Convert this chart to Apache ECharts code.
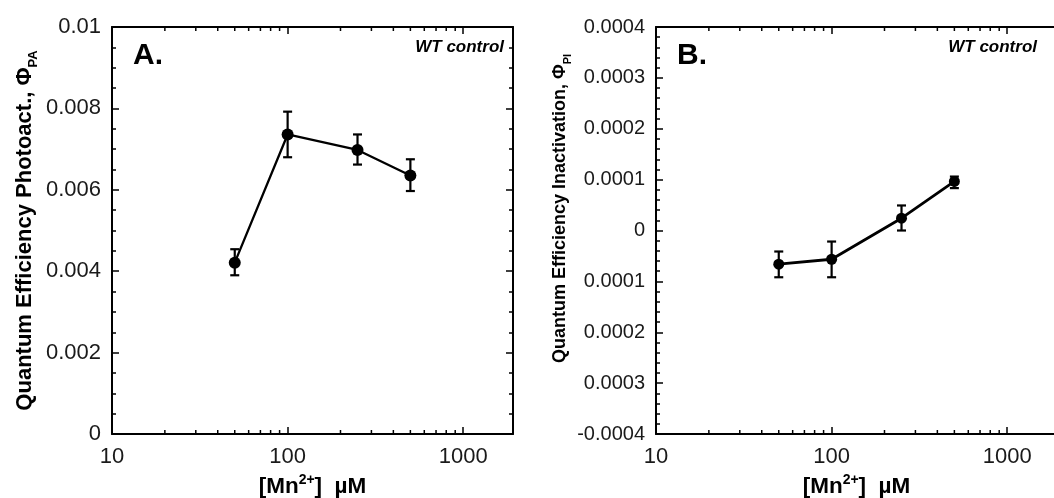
<!DOCTYPE html>
<html><head><meta charset="utf-8">
<script src="https://cdn.jsdelivr.net/npm/echarts@6/dist/echarts.min.js"></script>
<style>html,body{margin:0;padding:0;background:#fff}#c{width:1054px;height:498px}</style>
</head><body><div id="c"></div>
<script>
// ---- data ----
const mnConc = [50, 100, 250, 500];
const photoactPhi = [0.00421, 0.00736, 0.00698, 0.00635];
const photoactLow = [0.00390, 0.00680, 0.00662, 0.00597];
const photoactHigh = [0.00454, 0.00792, 0.00736, 0.00675];
const inactPhi = [-0.0000663, -0.0000565, 0.0000242, 0.0000965];
const inactLow = [-0.0000919, -0.0000919, 0.0000000, 0.0000833];
const inactHigh = [-0.0000413, -0.0000217, 0.0000492, 0.000106];
const xTickLabels = ['10', '100', '1000'];
const leftYTickLabels = ['0', '0.002', '0.004', '0.006', '0.008', '0.01'];
const rightYTickLabels = ['-0.0004', '0.0003', '0.0002', '0.0001', '0', '0.0001', '0.0002', '0.0003', '0.0004'];
const xMinorTicks = [20, 30, 40, 50, 60, 70, 80, 90, 200, 300, 400, 500, 600, 700, 800, 900];

const FONT = '"Liberation Sans", Arial, Helvetica, sans-serif';
const X_MIN = 10, X_MAX = 1920;

function xLabel(v) {
  const e = Math.log10(v);
  const r = Math.round(e);
  if (Math.abs(e - r) < 1e-6 && r >= 1 && r <= 3) return xTickLabels[r - 1];
  return '';
}

function makeX(gridIndex, pos, withLabels) {
  return {
    type: 'log', logBase: 10, gridIndex, position: pos, min: X_MIN, max: X_MAX,
    axisLine: { show: true, onZero: false, lineStyle: { color: '#000', width: 2 } },
    axisTick: { show: true, inside: true, length: 7, lineStyle: { color: '#000', width: 1.5 } },
    axisLabel: { show: withLabels, formatter: xLabel, color: '#1a1a1a', fontSize: 22, fontFamily: FONT, margin: 12,
      showMinLabel: true, showMaxLabel: false },
    splitLine: { show: false },
    name: withLabels ? '{b|[Mn}{sup|2+}{b|]  µM}' : '',
    nameLocation: 'middle', nameGap: 33,
    nameTextStyle: {
      fontFamily: FONT, color: '#000',
      rich: {
        b: { fontSize: 22.5, fontWeight: 'bold', fontFamily: FONT, color: '#000', lineHeight: 28, verticalAlign: 'middle' },
        sup: { fontSize: 14, fontWeight: 'bold', fontFamily: FONT, color: '#000', lineHeight: 14, verticalAlign: 'top' }
      }
    }
  };
}

function makeY(gridIndex, pos, opts) {
  return Object.assign({
    type: 'value', gridIndex, position: pos,
    axisLine: { show: true, onZero: false, lineStyle: { color: '#000', width: 2 } },
    axisTick: { show: true, inside: true, length: 7, lineStyle: { color: '#000', width: 1.5 } },
    splitLine: { show: false },
    minorSplitLine: { show: false }
  }, opts);
}

function errRender(params, api) {
  const x = api.value(0), lo = api.value(1), hi = api.value(2);
  const p1 = api.coord([x, lo]);
  const p2 = api.coord([x, hi]);
  const w = 4.5;
  const style = { stroke: '#000', lineWidth: 2.2 };
  return {
    type: 'group', children: [
      { type: 'line', shape: { x1: p1[0], y1: p1[1], x2: p2[0], y2: p2[1] }, style },
      { type: 'line', shape: { x1: p1[0] - w, y1: p1[1], x2: p1[0] + w, y2: p1[1] }, style },
      { type: 'line', shape: { x1: p2[0] - w, y1: p2[1], x2: p2[0] + w, y2: p2[1] }, style }
    ]
  };
}

function minorRender(params, api) {
  const cs = params.coordSys;
  const px = api.coord([api.value(0), api.value(1)])[0];
  const len = 4;
  const style = { stroke: '#000', lineWidth: 1.5 };
  return {
    type: 'group', children: [
      { type: 'line', shape: { x1: px, y1: cs.y + cs.height, x2: px, y2: cs.y + cs.height - len }, style },
      { type: 'line', shape: { x1: px, y1: cs.y, x2: px, y2: cs.y + len }, style }
    ]
  };
}

const leftYCommon = { min: 0, max: 0.01, interval: 0.002 };
const rightYCommon = { min: -0.0004, max: 0.0004, interval: 0.0001 };
const minorLeft = { show: true, splitNumber: 4, length: 4, lineStyle: { color: '#000', width: 1.5 } };
const minorRight = { show: true, splitNumber: 5, length: 4, lineStyle: { color: '#000', width: 1.5 } };

const option = {
  animation: false,
  backgroundColor: '#fff',
  grid: [
    { left: 112, top: 27, width: 401, height: 407, containLabel: false, outerBoundsMode: 'none' },
    { left: 656, top: 27, width: 401, height: 407, containLabel: false, outerBoundsMode: 'none' }
  ],
  xAxis: [
    makeX(0, 'bottom', true),
    makeX(0, 'top', false),
    makeX(1, 'bottom', true),
    makeX(1, 'top', false)
  ],
  yAxis: [
    makeY(0, 'left', Object.assign({}, leftYCommon, {
      minorTick: minorLeft,
      axisLabel: { color: '#1a1a1a', fontSize: 22, fontFamily: FONT, margin: 11, padding: [0, 0, 6, 0],
        formatter: v => leftYTickLabels[Math.round(v / 0.002)] },
      name: '{b|Quantum Efficiency Photoact., Φ}{sub|PA}',
      nameLocation: 'middle', nameGap: 72, nameRotate: 90,
      nameTextStyle: {
        rich: {
          b: { fontSize: 22, fontWeight: 'bold', fontFamily: FONT, color: '#000', lineHeight: 30, verticalAlign: 'middle' },
          sub: { fontSize: 13, fontWeight: 'bold', fontFamily: FONT, color: '#000', lineHeight: 13, verticalAlign: 'bottom' }
        }
      }
    })),
    makeY(0, 'right', Object.assign({}, leftYCommon, {
      minorTick: minorLeft,
      axisLabel: { show: false }
    })),
    makeY(1, 'left', Object.assign({}, rightYCommon, {
      minorTick: minorRight,
      axisLabel: { color: '#1a1a1a', fontSize: 20, fontFamily: FONT, margin: 11, padding: [0, 0, 4, 0],
        formatter: v => rightYTickLabels[Math.round((v + 0.0004) / 0.0001)] },
      name: '{b|Quantum Efficiency Inactivation, Φ}{sub|PI}',
      nameLocation: 'middle', nameGap: 74, nameRotate: 90,
      nameTextStyle: {
        padding: [0, 0, 0, 44],
        rich: {
          b: { fontSize: 18, fontWeight: 'bold', fontFamily: FONT, color: '#000', lineHeight: 26, verticalAlign: 'middle' },
          sub: { fontSize: 11, fontWeight: 'bold', fontFamily: FONT, color: '#000', lineHeight: 11, verticalAlign: 'bottom' }
        }
      }
    })),
    makeY(1, 'right', Object.assign({}, rightYCommon, {
      show: false
    }))
  ],
  graphic: [
    { type: 'text', left: 133, top: 41, style: { text: 'A.', font: 'bold 30px ' + FONT, fill: '#000' } },
    { type: 'text', left: 677, top: 41, style: { text: 'B.', font: 'bold 30px ' + FONT, fill: '#000' } },
    { type: 'text', x: 504, y: 47, style: { text: 'WT control', font: 'italic bold 17px ' + FONT, fill: '#000', align: 'right', verticalAlign: 'middle' } },
    { type: 'text', x: 1037, y: 47, style: { text: 'WT control', font: 'italic bold 17px ' + FONT, fill: '#000', align: 'right', verticalAlign: 'middle' } }
  ],
  series: [
    {
      type: 'custom', xAxisIndex: 0, yAxisIndex: 0, renderItem: minorRender,
      data: xMinorTicks.map(v => [v, 0.005]), encode: { x: 0, y: 1 }, silent: true, z: 1
    },
    {
      type: 'custom', xAxisIndex: 2, yAxisIndex: 2, renderItem: minorRender,
      data: xMinorTicks.map(v => [v, 0]), encode: { x: 0, y: 1 }, silent: true, z: 1
    },
    {
      type: 'custom', xAxisIndex: 0, yAxisIndex: 0, renderItem: errRender,
      data: mnConc.map((x, i) => [x, photoactLow[i], photoactHigh[i]]), encode: { x: 0, y: [1, 2] }, z: 2
    },
    {
      type: 'custom', xAxisIndex: 2, yAxisIndex: 2, renderItem: errRender,
      data: mnConc.map((x, i) => [x, inactLow[i], inactHigh[i]]), encode: { x: 0, y: [1, 2] }, z: 2
    },
    {
      type: 'line', xAxisIndex: 0, yAxisIndex: 0,
      data: mnConc.map((x, i) => [x, photoactPhi[i]]),
      symbol: 'circle', symbolSize: 12, showSymbol: true,
      lineStyle: { color: '#000', width: 2.3 }, itemStyle: { color: '#000' }, z: 3
    },
    {
      type: 'line', xAxisIndex: 2, yAxisIndex: 2,
      data: mnConc.map((x, i) => [x, inactPhi[i]]),
      symbol: 'circle', symbolSize: 11, showSymbol: true,
      lineStyle: { color: '#000', width: 2.8 }, itemStyle: { color: '#000' }, z: 3
    }
  ]
};

const chart = echarts.init(document.getElementById('c'), null, { renderer: 'canvas' });
chart.setOption(option);
</script>
</body></html>
